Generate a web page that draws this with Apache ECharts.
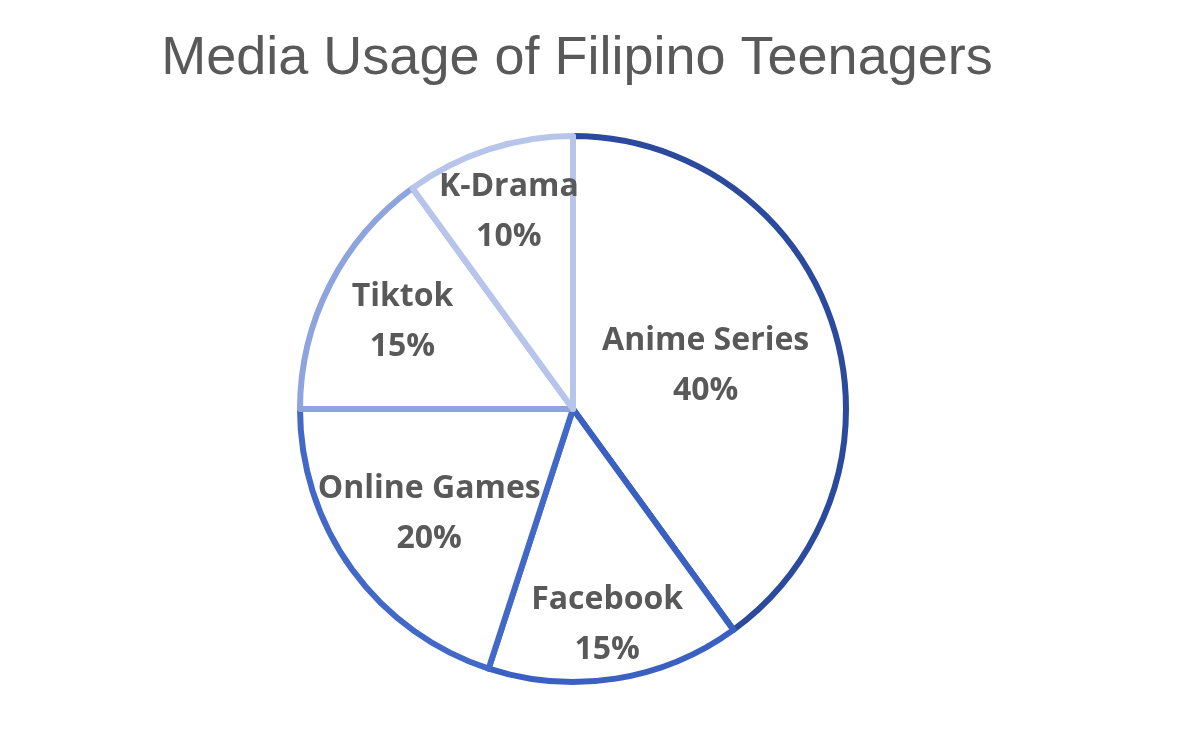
<!DOCTYPE html>
<html><head><meta charset="utf-8">
<script src="https://cdn.jsdelivr.net/npm/echarts@6/dist/echarts.min.js"></script>
<style>html,body{margin:0;padding:0;background:#fff}#c{width:1200px;height:730px}</style>
</head><body><div id="c"></div>
<script>
const categories = ['Anime Series', 'Facebook', 'Online Games', 'Tiktok', 'K-Drama'];
const values = [40, 15, 20, 15, 10];
const borderColors = ['#2b4a9e', '#3a60c2', '#4268c8', '#8ea4de', '#b8c5ea'];
const labelRadius = [0.5, 0.79, 0.64, 0.69, 0.75];

const cx = 573, cy = 409, R = 273;
const total = values.reduce((a, b) => a + b, 0);
const mids = [];
let acc = 0;
values.forEach(v => { mids.push((acc + v / 2) / total * 2 * Math.PI); acc += v; });

const chart = echarts.init(document.getElementById('c'));
chart.setOption({
  animation: false,
  title: {
    text: 'Media Usage of Filipino Teenagers',
    left: 572, top: 27, textAlign: 'center',
    textStyle: { fontFamily: 'Liberation Sans', fontWeight: 'normal', fontSize: 54, color: '#595959' }
  },
  series: [{
    type: 'pie',
    center: [cx, cy],
    radius: [0, R],
    startAngle: 90,
    clockwise: true,
    silent: true,
    data: categories.map((n, i) => ({
      name: n, value: values[i],
      itemStyle: { color: '#ffffff', borderColor: borderColors[i], borderWidth: 6 }
    })),
    label: {
      show: true, position: 'inside',
      formatter: p => p.name + '\n' + p.percent.toFixed(0) + '%',
      fontFamily: 'Open Sans', fontWeight: 'bold', fontSize: 32, lineHeight: 50, color: '#595959'
    },
    labelLine: { show: false },
    labelLayout: function (p) {
      const i = p.dataIndex;
      const a = mids[i];
      const f = labelRadius[i] - 0.5;
      return { dx: f * R * Math.sin(a), dy: -f * R * Math.cos(a) };
    }
  }]
});
</script></body></html>
